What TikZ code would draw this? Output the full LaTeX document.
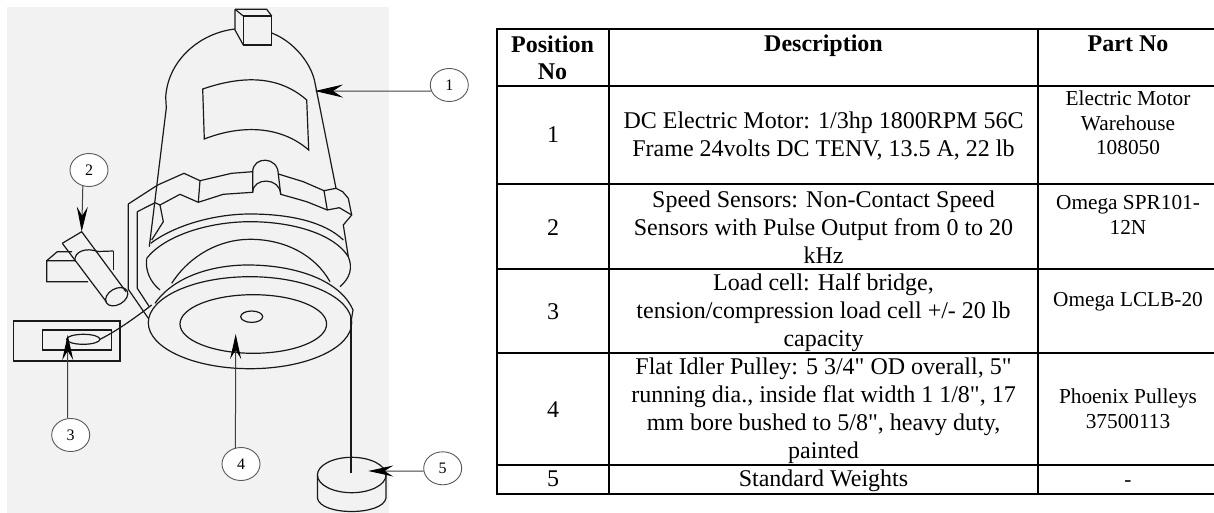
\documentclass[tikz,border=0pt]{standalone}
\usepackage{fontspec}
\setmainfont{Liberation Serif}[Ligatures=TeXOff]
\usetikzlibrary{arrows.meta,shapes.geometric,calc}
\definecolor{paper}{HTML}{F2F2F2}
\tikzset{
  sketch/.style={line width=1.2pt, black!90},
  partcircle/.style={ellipse, draw=black!65, line width=0.9pt, fill=white, minimum width=38pt, minimum height=33pt, inner sep=0pt, font=\fontsize{16}{18}\selectfont},
  leader/.style={draw=black!75, line width=1pt, -{Stealth[length=25pt, width=11pt, inset=9pt, black]}},
  rowline/.style={line width=1.6pt},
  headcell/.style={anchor=base, align=center, inner sep=0pt, font=\fontsize{24}{27}\selectfont\bfseries},
  desccell/.style={anchor=base, align=center, inner sep=0pt, font=\fontsize{24}{28}\selectfont},
  partcell/.style={anchor=base, align=center, inner sep=0pt, font=\fontsize{21.3}{24.4}\selectfont}
}
\begin{document}
\begin{tikzpicture}[x=1pt, y=-1pt]
    \useasboundingbox (0,0) rectangle (1214,513);
    \fill[paper] (7,7) rectangle (389,513);

    \draw[sketch] (235,29) .. controls (200,33) and (168,60) .. (165.7,97) -- (166.3,108) -- (149.3,246.7);
    \draw[sketch] (271.7,33) .. controls (295,42) and (312,65) .. (315,83) -- (336,188.3);
    \draw[sketch] (243.3,16) rectangle (271.7,45);
    \draw[sketch] (235,9.3) -- (266.7,9.3) -- (271.7,16);
    \draw[sketch] (235,9.3) -- (243.3,16);
    \draw[sketch] (235,9.3) -- (235,30) -- (243.3,45);
    \draw[sketch] (202.7,89) .. controls (235,78) and (275,72) .. (306.7,100) -- (308.7,150)
        .. controls (280,125) and (240,125) .. (204.3,139) -- cycle;

    \draw[sketch] (128.3,204) -- (157.7,185) -- (184,173.3) -- (200,180.7) -- (231.7,173.3) -- (252.7,171.7)
        .. controls (253,156) and (278,156) .. (278.3,174) -- (303.3,181.7) -- (324,190.7) -- (336,188.3)
        -- (342.7,191.7) -- (348.3,198.3) -- (351.7,215) -- (343.3,225) -- (348.3,256.7);
    \draw[sketch] (137.3,211.7) -- (155,202.7) -- (160,205) -- (180,194.3) -- (198.3,202.3) -- (223.3,194.3) -- (252.7,192.3)
        .. controls (253,177) and (280,177) .. (280.7,194.3) -- (306.7,201.7) -- (327.3,210) -- (339.3,207.7) -- (351.7,215);
    \draw[sketch] (200,180.7) -- (198.3,202.3) (252.7,171.7) -- (252.7,192.3) (278.3,174) -- (280.7,194.3) (324,190.7) -- (327.3,210);
    \draw[sketch] (160,205) -- (163.3,221.7) -- (151.7,240);
    \draw[sketch] (128.3,204) -- (128.3,289.3) -- (148.3,318.3);
    \draw[sketch] (137.3,211.7) -- (137.3,288.3) -- (149.3,306.7);

    \draw[sketch] (150.7,243.3) .. controls (175,225) and (215,214) .. (250,214) .. controls (290,214) and (325,222) .. (343.3,240);
    \draw[sketch] (146.7,258.3) .. controls (165,235) and (210,221.7) .. (250,221.7) .. controls (295,221.7) and (335,235) .. (348.3,256.7)
        .. controls (353,268) and (350,278) .. (340,286.7);
    \draw[sketch] (146.7,258.3) .. controls (145,270) and (150,282) .. (160,290);
    \draw[sketch] (171.7,283.3) .. controls (190,255) and (220,239.3) .. (250,239.3) .. controls (285,239.3) and (315,255) .. (330,281.7);

    \draw[sketch] (155,303.3) .. controls (175,275) and (215,265) .. (248,265) .. controls (295,265) and (340,280) .. (353,310) -- (351,322);
    \draw[sketch] (250,322.7) ellipse (101.7 and 46);
    \draw[sketch] (253.3,324) ellipse (73.3 and 29.3);
    \draw[sketch] (251.7,316.7) ellipse (11 and 5.7);

    \draw[sketch] (351,317) -- (351,473.3);
    \draw[sketch] (351.7,475) ellipse (34.3 and 17.7);
    \draw[sketch] (317.4,475) -- (317.4,498) .. controls (320,516) and (383,516) .. (386,498) -- (386,475);

    \draw[sketch] (13.3,321) rectangle (120,361);
    \draw[sketch] (42.3,330) rectangle (111.7,350);
    \draw[sketch] (83.3,339.3) ellipse (16.7 and 5);
    \draw[sketch] (100,339.3) .. controls (115,332) and (135,318) .. (151.7,305);

    \draw[sketch] (113.3,251) -- (98,251.5) .. controls (85,247) and (74,252) .. (75,260.7) -- (46.7,260.7) -- (46.7,281.7) -- (88,281.7);
    \draw[sketch] (46.7,260.7) -- (57.3,251.7) -- (72,251.7);
    \draw[sketch] (113.3,251) -- (113.3,270);
    \draw[sketch] (62.3,243.3) -- (81.7,231.7) -- (126,291.7);
    \draw[sketch] (62.3,243.3) -- (106.7,302.3);
    \draw[sketch, rotate around={30:(116.7,296.7)}] (116.7,296.7) ellipse (12 and 8);

    \foreach \n/\x/\y in {1/449.3/85, 2/89/170, 3/70.7/435, 4/241/464, 5/442.7/468.3}
        \node[partcircle] (circle\n) at (\x,\y) {\n};
    \coordinate (tip1) at (315,91);
    \coordinate (tip2) at (81.7,231.7);
    \coordinate (tip3) at (67.7,335);
    \coordinate (tip4) at (235.7,334);
    \coordinate (tip5) at (368.3,471);
    \draw[leader, -{Stealth[length=28pt, width=13pt, inset=10pt, black]}] (circle1.199) -- (tip1);
    \draw[leader] (circle2.249) -- (tip2);
    \draw[leader] (circle3.100) -- (tip3);
    \draw[leader] (circle4.109) -- (tip4);
    \draw[leader] (circle5.188) -- (tip5);

    \foreach \y in {29, 86, 184, 269, 353, 465, 494}
        \draw[rowline] (497,\y) -- (1214,\y);
    \foreach \x in {497, 609, 1038}
        \draw[rowline] (\x,28.2) -- (\x,494.8);

    \node[headcell] (headpos) at (552.5,79.3) {Position\\No};
    \node[headcell] (headdesc) at (823.5,52) {Description};
    \node[headcell] (headpart) at (1128,52) {Part No};
    \foreach \n/\y in {1/142.7, 2/235, 3/319, 4/417, 5/486}
        \node[desccell] (pos\n) at (553,\y) {\n};
    \foreach \n/\y/\txt in {
        1/156.7/{DC Electric Motor: 1/3hp 1800RPM 56C\\Frame 24volts DC TENV, 13.5 A, 22 lb},
        2/263/{Speed Sensors: Non-Contact Speed\\Sensors with Pulse Output from 0 to 20\\kHz},
        3/346/{Load cell: Half bridge,\\tension/compression load cell +/- 20 lb\\capacity},
        4/458/{Flat Idler Pulley: 5 3/4" OD overall, 5"\\running dia., inside flat width 1 1/8", 17\\mm bore bushed to 5/8", heavy duty,\\painted},
        5/486/{Standard Weights}}
        \node[desccell] (desc\n) at (823.5,\y) {\txt};
    \foreach \n/\y/\txt in {
        1/154.7/{Electric Motor\\Warehouse\\108050},
        2/234/{Omega SPR101-\\12N},
        3/306/{Omega LCLB-20},
        4/428.3/{Phoenix Pulleys\\37500113},
        5/486/{-}}
        \node[partcell] (part\n) at (1128,\y) {\txt};
\end{tikzpicture}
\end{document}
